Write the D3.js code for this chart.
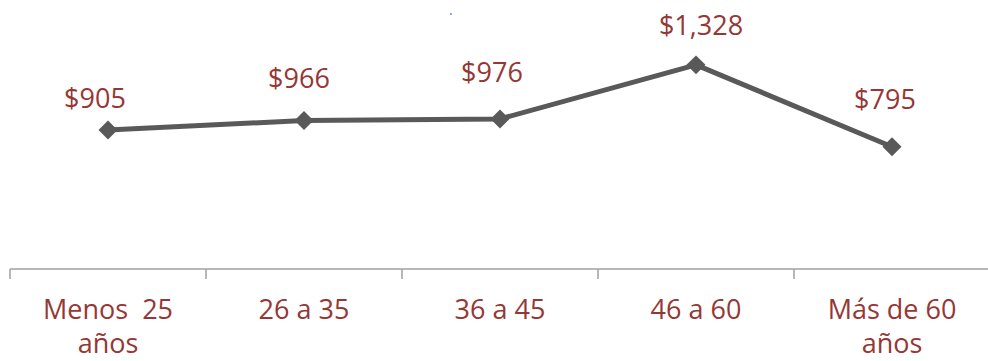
<!DOCTYPE html>
<html>
<head>
<meta charset="utf-8">
<script src="https://cdn.jsdelivr.net/npm/d3@7"></script>
<style>
  html, body { margin: 0; padding: 0; background: #fff; }
  svg { display: block; }
  text { font-family: "Open Sans", "Noto Sans", sans-serif; }
</style>
</head>
<body>
<svg id="chart" width="988" height="361"></svg>
<script>
// ---- data ----
const categories = [["Menos  25", "años"], ["26 a 35"], ["36 a 45"], ["46 a 60"], ["Más de 60", "años"]];
const values = [905, 966, 976, 1328, 795];
const valueLabels = ["$905", "$966", "$976", "$1,328", "$795"];

// ---- layout (manual label offsets as placed in the original) ----
const labelOffsets = [[-13, -22], [-5, -33], [-8, -37], [5, -30], [-7, -38]];

const W = 988, H = 361;
const margin = { left: 10, right: -2, top: 0, axisY: 269 };
const svg = d3.select("#chart");

const x = d3.scaleBand()
  .domain(d3.range(categories.length))
  .range([margin.left, W - margin.right])
  .paddingInner(0).paddingOuter(0);

const y = d3.scaleLinear().domain([0, 1750]).range([margin.axisY, margin.top]);

const labelColor = "#953735";
const lineColor = "#595959";

// axis
const axis = svg.append("g");
axis.append("line")
  .attr("x1", x.range()[0]).attr("x2", x.range()[1])
  .attr("y1", margin.axisY).attr("y2", margin.axisY)
  .attr("stroke", "#a0a0a0").attr("stroke-width", 1.5);
const tickXs = d3.range(categories.length + 1).map(i => x.range()[0] + i * x.step());
axis.selectAll("line.tick").data(tickXs).join("line")
  .attr("class", "tick")
  .attr("x1", d => d).attr("x2", d => d)
  .attr("y1", margin.axisY).attr("y2", margin.axisY + 10)
  .attr("stroke", "#a0a0a0").attr("stroke-width", 1.5);

// category labels
const catG = svg.append("g");
categories.forEach((lines, i) => {
  const t = catG.append("text")
    .attr("x", x(i) + x.bandwidth() / 2)
    .attr("y", 319)
    .attr("text-anchor", "middle")
    .attr("fill", labelColor)
    .attr("font-size", 27)
    .style("white-space", "pre");
  lines.forEach((ln, j) => {
    t.append("tspan")
      .attr("x", x(i) + x.bandwidth() / 2)
      .attr("dy", j === 0 ? 0 : 34)
      .text(ln);
  });
});

// line
const cx = i => x(i) + x.bandwidth() / 2;
const line = d3.line().x((d, i) => cx(i)).y(d => y(d));
svg.append("path")
  .datum(values)
  .attr("d", line)
  .attr("fill", "none")
  .attr("stroke", lineColor)
  .attr("stroke-width", 5)
  .attr("stroke-linejoin", "round");

// diamond markers
const diamond = d3.symbol().type(d3.symbolSquare).size(180);
svg.selectAll("path.marker").data(values).join("path")
  .attr("class", "marker")
  .attr("d", diamond)
  .attr("transform", (d, i) => `translate(${cx(i)},${y(d)}) rotate(45)`)
  .attr("fill", lineColor);

// value labels
svg.selectAll("text.val").data(values).join("text")
  .attr("class", "val")
  .attr("x", (d, i) => cx(i) + labelOffsets[i][0])
  .attr("y", (d, i) => y(d) + labelOffsets[i][1])
  .attr("text-anchor", "middle")
  .attr("fill", labelColor)
  .attr("font-size", 27)
  .text((d, i) => valueLabels[i]);

// tiny stray mark present in the original image
svg.append("rect").attr("x", 450).attr("y", 13).attr("width", 2).attr("height", 2).attr("fill", "#8ea6dc");
</script>
</body>
</html>
